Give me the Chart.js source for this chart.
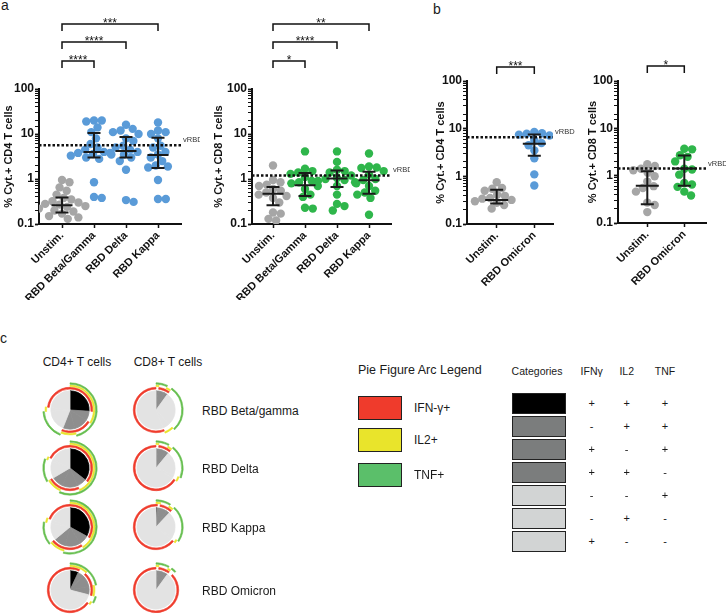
<!DOCTYPE html>
<html>
<head>
<meta charset="utf-8">
<script src="https://cdn.jsdelivr.net/npm/chart.js@4.4.1/dist/chart.umd.min.js"></script>
<style>
  body { margin: 0; width: 726px; height: 615px; background: #fff; position: relative; overflow: hidden;
    font-family: 'Liberation Sans', Arial, sans-serif; color: #1a1a1a; }
  canvas { position: absolute; }
  .t { position: absolute; white-space: nowrap; line-height: 1; transform: translateY(-50%); }
  .c { transform: translate(-50%, -50%); }
  .box { position: absolute; box-sizing: border-box; border: 1.5px solid #222; }
</style>
</head>
<body>

<div class="t" style="left:1px;top:5px;font-size:14px">a</div>
<div class="t" style="left:433px;top:9px;font-size:14px">b</div>
<div class="t" style="left:0px;top:338px;font-size:14px">c</div>

<canvas id="a4" width="200" height="300" style="left:0;top:0"></canvas>
<canvas id="a8" width="200" height="300" style="left:210px;top:0"></canvas>
<canvas id="b4" width="145" height="300" style="left:432px;top:0"></canvas>
<canvas id="b8" width="142" height="300" style="left:584px;top:0"></canvas>

<div class="t c" style="left:77px;top:362px;font-size:12px">CD4+ T cells</div>
<div class="t c" style="left:168px;top:362px;font-size:12px">CD8+ T cells</div>
<div id="pies"></div>
<div id="legend"></div>

<script>
Chart.defaults.font.family = "'Liberation Sans', Arial, sans-serif"

// ---- panel a, CD4 ----
const catsA = ['Unstim.', 'RBD Beta/Gamma', 'RBD Delta', 'RBD Kappa']
const a4Unstim = [0.95, 0.85, 0.65, 0.55, 0.45, 0.38, 0.35, 0.32, 0.3, 0.28, 0.27, 0.25, 0.24, 0.22, 0.2, 0.19, 0.17, 0.15, 0.14, 0.13]
const a4Beta = [20, 20, 19, 14, 11, 8, 6, 5, 4.5, 4, 3.8, 3.6, 3.5, 3.3, 3, 2.8, 0.85, 0.4, 0.38]
const a4Delta = [16, 13, 12, 11, 10, 8, 7, 5.5, 5, 4.5, 4, 3.8, 3.5, 3, 2.5, 1.6, 0.34, 0.31]
const a4Kappa = [18, 12, 11, 10, 8, 5.5, 5, 4, 3.5, 3, 2.5, 2, 1.9, 1.8, 0.95, 0.36, 0.36]
const a4Median = [0.26, 4.0, 4.2, 3.4]
const a4Q1 = [0.18, 3.0, 3.0, 1.76]
const a4Q3 = [0.39, 10.5, 8.6, 8.3]
const a4Ref = 5.6
const a4Sig = ['***', '****', '****'] // Unstim vs Kappa, Delta, Beta

// ---- panel a, CD8 ----
const a8Unstim = [2.0, 0.95, 0.85, 0.75, 0.7, 0.6, 0.55, 0.5, 0.45, 0.42, 0.38, 0.3, 0.18, 0.17, 0.13, 0.12]
const a8Beta = [4.1, 1.7, 1.5, 1.4, 1.3, 1.1, 0.9, 0.85, 0.8, 0.7, 0.6, 0.45, 0.4, 0.23, 0.22]
const a8Delta = [4.1, 2.4, 1.6, 1.5, 1.4, 1.2, 1.05, 1.0, 0.95, 0.9, 0.85, 0.7, 0.45, 0.28, 0.25, 0.2]
const a8Kappa = [3.7, 1.9, 1.8, 1.75, 1.5, 1.25, 1.0, 0.95, 0.8, 0.7, 0.55, 0.5, 0.45, 0.38, 0.16]
const a8Median = [0.47, 0.73, 1.02, 0.94]
const a8Q1 = [0.26, 0.42, 0.66, 0.47]
const a8Q3 = [0.66, 1.36, 1.55, 1.45]
const a8Ref = 1.2
const a8Sig = ['**', '****', '*']

// ---- panel b ----
const catsB = ['Unstim.', 'RBD Omicron']
const b4Unstim = [0.75, 0.57, 0.55, 0.5, 0.41, 0.39, 0.35, 0.34, 0.32, 0.3, 0.28, 0.25, 0.21]
const b4Omicron = [8.5, 8.0, 7.8, 7.5, 7.2, 7.0, 5.8, 5.0, 4.5, 3.5, 2.4, 1.1, 0.64]
const b4Median = [0.32, 4.8]
const b4Q1 = [0.27, 2.7]
const b4Q3 = [0.52, 7.5]
const b4Ref = 6.6
const b4Sig = ['***']

const b8Unstim = [1.75, 1.6, 1.4, 1.3, 1.15, 0.97, 0.75, 0.6, 0.55, 0.46, 0.27, 0.24, 0.17]
const b8Omicron = [3.7, 3.6, 2.7, 2.5, 2.0, 1.4, 1.35, 1.05, 0.7, 0.65, 0.58, 0.46, 0.38]
const b8Median = [0.61, 1.41]
const b8Q1 = [0.25, 0.61]
const b8Q3 = [1.24, 2.66]
const b8Ref = 1.41
const b8Sig = ['*']

// ---- panel c ----
// category order: IFNγ / IL2 / TNF
const ifnSign = ['+', '-', '+', '+', '-', '-', '+']
const il2Sign = ['+', '+', '-', '+', '-', '+', '-']
const tnfSign = ['+', '+', '+', '-', '+', '-', '-']
const pieRows = ['RBD Beta/gamma', 'RBD Delta', 'RBD Kappa', 'RBD Omicron']
const cd4Fractions = [
  [0.26, 0.08, 0.12, 0.10, 0.18, 0.03, 0.23],
  [0.355, 0.08, 0.13, 0.10, 0.14, 0.02, 0.175],
  [0.33, 0.08, 0.13, 0.10, 0.14, 0.03, 0.19],
  [0.07, 0.05, 0.10, 0.07, 0.04, 0.02, 0.65]
]
const cd8Fractions = [
  [0, 0.02, 0.05, 0.03, 0.28, 0.06, 0.56],
  [0, 0.02, 0.06, 0.03, 0.20, 0.03, 0.66],
  [0.01, 0.02, 0.06, 0.03, 0.22, 0.02, 0.64],
  [0, 0.02, 0.06, 0.02, 0.03, 0, 0.87]
]
const arcLegend = ['IFN-γ+', 'IL2+', 'TNF+']

const GREY = '#a6a6a6'
const BLUE = '#5a9bd8'
const GREEN = '#2fb64b'
const RED = '#ef3b2c'
const YELLOW = '#e9e42b'
const ARC_GREEN = '#65be4e'
const TEXT = '#111'

function isPow10 (v) {
  const l = Math.log10(v)
  return Math.abs(l - Math.round(l)) < 1e-6
}

// simple beeswarm: spreads equal-ish values sideways so dots do not overlap
function beeswarm (values, decadePx, unitPx, r) {
  const placed = []
  const out = new Array(values.length)
  const order = values.map((v, i) => i).sort((a, b) => values[b] - values[a])
  order.forEach(i => {
    const y = Math.log10(values[i]) * decadePx
    const near = placed.filter(p => Math.abs(p.y - y) < 2 * r)
    const cands = [0]
    near.forEach(p => {
      const dx = Math.sqrt(4 * r * r - (p.y - y) ** 2)
      cands.push(p.x + dx, p.x - dx)
    })
    cands.sort((a, b) => Math.abs(a) - Math.abs(b))
    const x = cands.find(c => near.every(p => (p.x - c) ** 2 + (p.y - y) ** 2 >= 4 * r * r - 0.01))
    placed.push({ x, y })
    out[i] = x / unitPx
  })
  return out
}

function statsPlugin (g) {
  return {
    id: 'stats',
    afterDatasetsDraw (chart) {
      const { ctx, chartArea } = chart
      const xs = chart.scales.x
      const ys = chart.scales.y
      ctx.save()

      // vRBD reference line
      const ry = ys.getPixelForValue(g.ref)
      ctx.strokeStyle = TEXT
      ctx.lineWidth = 2.5
      ctx.setLineDash([2.5, 2])
      ctx.beginPath()
      ctx.moveTo(chartArea.left, ry)
      ctx.lineTo(chartArea.right, ry)
      ctx.stroke()
      ctx.setLineDash([])
      ctx.fillStyle = '#333'
      ctx.font = "7.5px 'Liberation Sans', Arial"
      ctx.textBaseline = 'alphabetic'
      ctx.textAlign = 'left'
      ctx.fillText('vRBD', chartArea.right + 2, ry - 3)

      // median with interquartile range
      ctx.strokeStyle = '#1a1a1a'
      ctx.lineWidth = 2
      g.median.forEach((m, i) => {
        const x = xs.getPixelForValue(i)
        const y1 = ys.getPixelForValue(g.q1[i])
        const y3 = ys.getPixelForValue(g.q3[i])
        const ym = ys.getPixelForValue(m)
        ctx.beginPath()
        ctx.moveTo(x, y1); ctx.lineTo(x, y3)
        ctx.moveTo(x - 6.5, y1); ctx.lineTo(x + 6.5, y1)
        ctx.moveTo(x - 6.5, y3); ctx.lineTo(x + 6.5, y3)
        ctx.moveTo(x - g.medHalf, ym); ctx.lineTo(x + g.medHalf, ym)
        ctx.stroke()
      })

      // significance brackets, Unstim vs each group
      ctx.lineWidth = 1.5
      ctx.strokeStyle = TEXT
      ctx.fillStyle = TEXT
      ctx.font = "12px 'Liberation Sans', Arial"
      ctx.textAlign = 'center'
      g.sig.forEach((s, k) => {
        const to = g.sig.length - k
        const y = g.bracketY[k]
        const x0 = xs.getPixelForValue(0)
        const x1 = xs.getPixelForValue(to)
        ctx.beginPath()
        ctx.moveTo(x0, y + 7); ctx.lineTo(x0, y); ctx.lineTo(x1, y); ctx.lineTo(x1, y + 7)
        ctx.stroke()
        ctx.fillText(s, (x0 + x1) / 2, y + 3)
      })
      ctx.restore()
    }
  }
}

function scatterChart (id, g) {
  const L = g.layout
  const min = -(L.c0 - L.axisX) / L.unit
  const max = (L.right - L.c0) / L.unit
  const decadePx = (L.bottom - L.top) / 3
  const datasets = g.groups.map((vals, i) => {
    const offs = beeswarm(vals, decadePx, L.unit, 3.9)
    return {
      data: vals.map((v, j) => ({ x: i + offs[j], y: v })),
      backgroundColor: g.colors[i],
      pointRadius: 4.2,
      pointBorderWidth: 0,
      showLine: false
    }
  })
  const canvas = document.getElementById(id)
  return new Chart(canvas, {
    type: 'scatter',
    data: { datasets },
    options: {
      responsive: false,
      animation: false,
      events: [],
      layout: { padding: { top: L.top, right: canvas.width - L.right, bottom: 0, left: 0 } },
      plugins: { legend: { display: false }, tooltip: { enabled: false } },
      scales: {
        x: {
          type: 'linear',
          min,
          max,
          afterBuildTicks: s => { s.ticks = g.cats.map((c, i) => ({ value: i })) },
          afterFit: s => { s.height = canvas.height - L.bottom },
          grid: { drawOnChartArea: false, drawTicks: true, tickLength: 4, tickColor: TEXT, tickWidth: 1.5 },
          border: { color: TEXT, width: 2 },
          ticks: {
            autoSkip: false,
            minRotation: 45,
            maxRotation: 45,
            padding: 1,
            color: TEXT,
            font: { size: 11, weight: 'bold' },
            callback: v => g.cats[Math.round(v)]
          }
        },
        y: {
          type: 'logarithmic',
          min: 0.1,
          max: 100,
          afterFit: s => { s.width = L.axisX },
          grid: {
            drawOnChartArea: false,
            drawTicks: true,
            tickLength: 4,
            tickColor: TEXT,
            tickWidth: c => (c.tick && isPow10(c.tick.value)) ? 1.8 : 1
          },
          border: { color: TEXT, width: 2 },
          ticks: {
            autoSkip: false,
            padding: 1,
            color: TEXT,
            font: { size: 12, weight: 'bold' },
            callback: v => {
              if (!isPow10(v)) return ''
              return { '-1': '0.1', 0: '1', 1: '10', 2: '100' }[Math.round(Math.log10(v))]
            }
          },
          title: {
            display: true,
            text: g.title,
            color: TEXT,
            font: { size: 11, weight: 'bold' },
            padding: { top: 2, bottom: 0 }
          }
        }
      }
    },
    plugins: [statsPlugin(g)]
  })
}

scatterChart('a4', {
  cats: catsA,
  groups: [a4Unstim, a4Beta, a4Delta, a4Kappa],
  colors: [GREY, BLUE, BLUE, BLUE],
  median: a4Median, q1: a4Q1, q3: a4Q3, ref: a4Ref,
  sig: a4Sig, bracketY: [24, 42, 61], medHalf: 10.5,
  title: '% Cyt.+ CD4 T cells',
  layout: { axisX: 39, right: 181, c0: 62, unit: 32, top: 89, bottom: 224 }
})
scatterChart('a8', {
  cats: catsA,
  groups: [a8Unstim, a8Beta, a8Delta, a8Kappa],
  colors: [GREY, GREEN, GREEN, GREEN],
  median: a8Median, q1: a8Q1, q3: a8Q3, ref: a8Ref,
  sig: a8Sig, bracketY: [24, 42, 61], medHalf: 10.5,
  title: '% Cyt.+ CD8 T cells',
  layout: { axisX: 42, right: 181, c0: 63, unit: 32, top: 89, bottom: 224 }
})
scatterChart('b4', {
  cats: catsB,
  groups: [b4Unstim, b4Omicron],
  colors: [GREY, BLUE],
  median: b4Median, q1: b4Q1, q3: b4Q3, ref: b4Ref,
  sig: b4Sig, bracketY: [67], medHalf: 11.5,
  title: '% Cyt.+ CD4 T cells',
  layout: { axisX: 35, right: 121, c0: 64.7, unit: 37.6, top: 81, bottom: 224 }
})
scatterChart('b8', {
  cats: catsB,
  groups: [b8Unstim, b8Omicron],
  colors: [GREY, GREEN],
  median: b8Median, q1: b8Q1, q3: b8Q3, ref: b8Ref,
  sig: b8Sig, bracketY: [66], medHalf: 11.5,
  title: '% Cyt.+ CD8 T cells',
  layout: { axisX: 34, right: 122, c0: 63.3, unit: 37, top: 81, bottom: 223 }
})

// ---- pies ----
const PIE_FILL = ['#000000', '#8e8e8e', '#8e8e8e', '#8e8e8e', '#e3e3e3', '#e3e3e3', '#e3e3e3']
const TABLE_FILL = ['#000000', '#7b7d7d', '#7b7d7d', '#7b7d7d', '#d2d4d4', '#d2d4d4', '#d2d4d4']
const CLEAR = 'rgba(0,0,0,0)'

function pieChart (canvas, fr) {
  const ring = (signs, color, w) => {
    const cols = signs.map(s => s === '+' ? color : CLEAR)
    return { data: fr, backgroundColor: cols, borderColor: cols, borderWidth: 0.6, weight: w }
  }
  const gap = w => ({ data: [1], backgroundColor: [CLEAR], weight: w, borderWidth: 0 })
  return new Chart(canvas, {
    type: 'pie',
    data: {
      datasets: [
        ring(tnfSign, ARC_GREEN, 1.5), gap(0.8),
        ring(il2Sign, YELLOW, 1.5), gap(0.7),
        ring(ifnSign, RED, 1.8), gap(1.8),
        { data: fr, backgroundColor: PIE_FILL, borderColor: PIE_FILL, borderWidth: 0.8, weight: 19.2 }
      ]
    },
    options: {
      responsive: false,
      animation: false,
      events: [],
      layout: { padding: 2.5 },
      plugins: { legend: { display: false }, tooltip: { enabled: false } }
    }
  })
}

const pieY = [410, 468, 527, 590]
const pieHost = document.getElementById('pies')
pieRows.forEach((name, r) => {
  [[70, cd4Fractions[r]], [155.5, cd8Fractions[r]]].forEach(([cx, fr]) => {
    const cv = document.createElement('canvas')
    cv.width = 60
    cv.height = 60
    cv.style.left = (cx - 30) + 'px'
    cv.style.top = (pieY[r] - 30) + 'px'
    pieHost.appendChild(cv)
    pieChart(cv, fr)
  })
  const lbl = document.createElement('div')
  lbl.className = 't'
  lbl.style.cssText = `left:202px;top:${pieY[r] + 1}px;font-size:12px`
  lbl.textContent = name
  pieHost.appendChild(lbl)
})

// ---- arc legend + category table ----
const legendColors = [RED, YELLOW, '#5bbf6a']
const legendBoxY = [396, 428, 463]
let html = '<div class="t" style="left:358px;top:370px;font-size:12.5px">Pie Figure Arc Legend</div>'
arcLegend.forEach((txt, i) => {
  html += `<div class="box" style="left:358px;top:${legendBoxY[i]}px;width:44px;height:24px;background:${legendColors[i]}"></div>`
  html += `<div class="t" style="left:414px;top:${legendBoxY[i] + 12}px;font-size:12px">${txt}</div>`
})
const colX = [591.7, 626.7, 665]
html += '<div class="t c" style="left:537px;top:371px;font-size:10.5px">Categories</div>'
;['IFNγ', 'IL2', 'TNF'].forEach((h, j) => {
  html += `<div class="t c" style="left:${colX[j]}px;top:371px;font-size:10.5px">${h}</div>`
})
const signCols = [ifnSign, il2Sign, tnfSign]
TABLE_FILL.forEach((col, i) => {
  const top = 393.3 + i * 22.95
  html += `<div class="box" style="left:512px;top:${top}px;width:54px;height:20.5px;background:${col}"></div>`
  signCols.forEach((signs, j) => {
    html += `<div class="t c" style="left:${colX[j]}px;top:${top + 10}px;font-size:11px">${signs[i] === '+' ? '+' : '-'}</div>`
  })
})
document.getElementById('legend').innerHTML = html
</script>
</body>
</html>
